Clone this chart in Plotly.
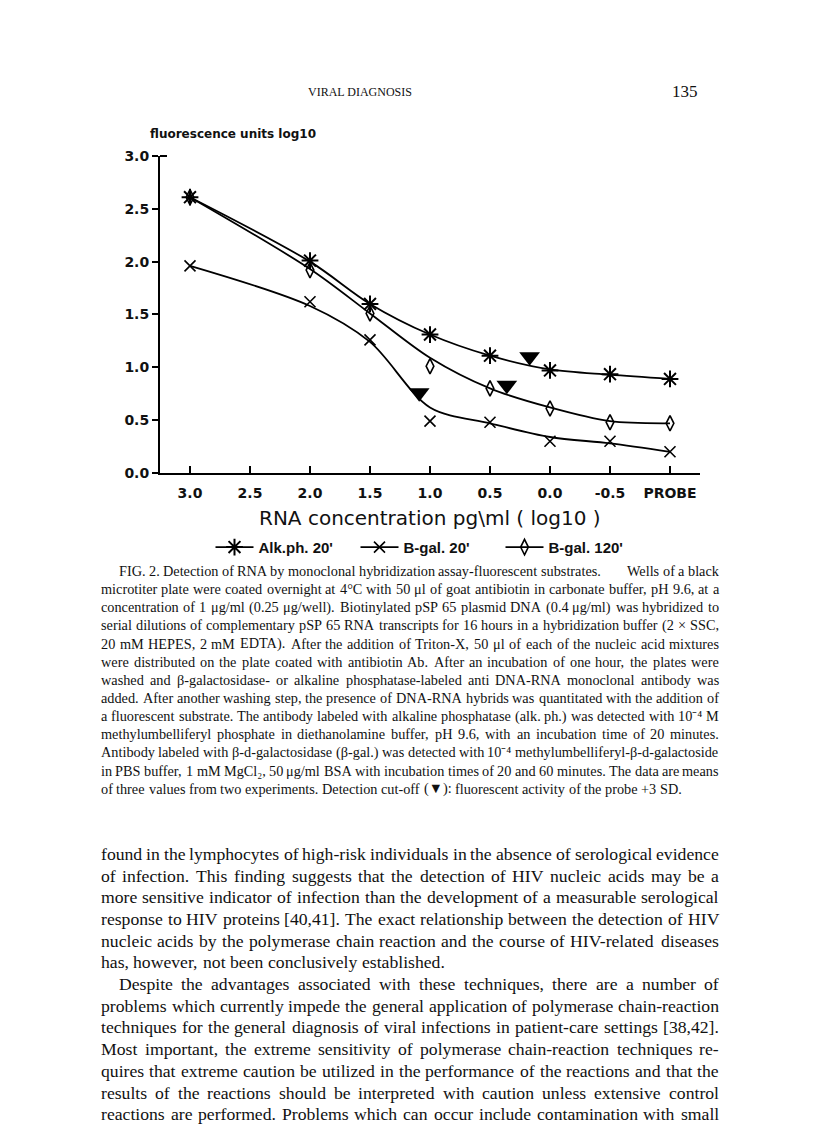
import plotly.graph_objects as go

# la pagina html deja 8 px de margen: la figura ocupa el resto de la ventana de 816 x 1137
PAGE_OFF = 8
W, H = 816 - PAGE_OFF, 1137 - PAGE_OFF

# -- ----------------------------------------------------------------------------------------- datos de la grafica -- #
conc_vals = [3.0, 2.0, 1.5, 1.0, 0.5, 0.0, -0.5, -1.0]          # -1.0 = PROBE

# puntos medidos
alk_20 = [2.61, 2.01, 1.60, 1.31, 1.11, 0.97, 0.935, 0.89]
bgal_20 = [1.96, 1.62, 1.26, 0.49, 0.48, 0.30, 0.30, 0.20]
bgal_120 = [2.61, 1.92, 1.51, 1.01, 0.80, 0.61, 0.48, 0.47]

alk_20_fit = [2.61, 2.00, 1.60, 1.31, 1.11, 0.98, 0.93, 0.89]
bgal_20_fit = [1.96, 1.58, 1.24, 0.62, 0.47, 0.34, 0.28, 0.20]
bgal_120_fit = [2.61, 1.93, 1.51, 1.09, 0.80, 0.62, 0.49, 0.47]

# corte de deteccion (triangulos)
cutoff_x = [0.17, 0.36, 1.09]
cutoff_y = [1.10, 0.83, 0.76]

x_tickvals = [3.0, 2.5, 2.0, 1.5, 1.0, 0.5, 0.0, -0.5, -1.0]
x_ticktext = ['3.0', '2.5', '2.0', '1.5', '1.0', '0.5', '0.0', '-0.5', 'PROBE']
y_tickvals = [0.0, 0.5, 1.0, 1.5, 2.0, 2.5, 3.0]
y_ticktext = ['0.0', '0.5', '1.0', '1.5', '2.0', '2.5', '3.0']

series_names = ["Alk.ph. 20'", "B-gal. 20'", "B-gal. 120'"]

# -- ------------------------------------------------------------------------------------------- texto de la pagina -- #
header_left = 'VIRAL DIAGNOSIS'
header_right = '135'
y_title = 'fluorescence units log10'
x_title = 'RNA concentration pg\\ml ( log10 )'

caption_lines = [
    "FIG. 2. Detection of RNA by monoclonal hybridization assay-fluorescent substrates.        Wells of a black",
    "microtiter plate were coated overnight at 4°C with 50 μl of goat antibiotin in carbonate buffer, pH 9.6, at a",
    "concentration of 1 μg/ml (0.25 μg/well). Biotinylated pSP 65 plasmid DNA (0.4 μg/ml) was hybridized to",
    "serial dilutions of complementary pSP 65 RNA transcripts for 16 hours in a hybridization buffer (2 × SSC,",
    "20 mM HEPES, 2 mM EDTA). After the addition of Triton-X, 50 μl of each of the nucleic acid mixtures",
    "were distributed on the plate coated with antibiotin Ab. After an incubation of one hour, the plates were",
    "washed and β-galactosidase- or alkaline phosphatase-labeled anti DNA-RNA monoclonal antibody was",
    "added. After another washing step, the presence of DNA-RNA hybrids was quantitated with the addition of",
    "a fluorescent substrate. The antibody labeled with alkaline phosphatase (alk. ph.) was detected with 10⁻⁴ M",
    "methylumbelliferyl phosphate in diethanolamine buffer, pH 9.6, with an incubation time of 20 minutes.",
    "Antibody labeled with β-d-galactosidase (β-gal.) was detected with 10⁻⁴ methylumbelliferyl-β-d-galactoside",
    "in PBS buffer, 1 mM MgCl₂, 50 μg/ml BSA with incubation times of 20 and 60 minutes. The data are means",
    "of three values from two experiments. Detection cut-off (▼): fluorescent activity of the probe +3 SD.",
]

body_lines = [
    "found in the lymphocytes of high-risk individuals in the absence of serological evidence",
    "of infection. This finding suggests that the detection of HIV nucleic acids may be a",
    "more sensitive indicator of infection than the development of a measurable serological",
    "response to HIV proteins [40,41]. The exact relationship between the detection of HIV",
    "nucleic acids by the polymerase chain reaction and the course of HIV-related diseases",
    "has, however, not been conclusively established.",
    "Despite the advantages associated with these techniques, there are a number of",
    "problems which currently impede the general application of polymerase chain-reaction",
    "techniques for the general diagnosis of viral infections in patient-care settings [38,42].",
    "Most important, the extreme sensitivity of polymerase chain-reaction techniques re-",
    "quires that extreme caution be utilized in the performance of the reactions and that the",
    "results of the reactions should be interpreted with caution unless extensive control",
    "reactions are performed. Problems which can occur include contamination with small",
]
caption_indent = [0]
caption_last = [12]
body_indent = [6]
body_last = [5]


# -- ------------------------------------------------------------------------------- metricas (Times / Lib. Serif) -- #
TIMES = {' ': 250, '!': 333, '(': 333, ')': 333, '+': 564, ',': 250, '-': 333, '.': 250, '/': 278,
         ':': 278, ';': 278, "'": 333, '[': 333, ']': 333, '°': 400, 'μ': 576, 'β': 549, '×': 564,
         '▼': 1000, '⁻': 380, '⁴': 330, '₂': 330}
TIMES.update({d: 500 for d in '0123456789'})
TIMES.update(dict(zip('abcdefghijklmnopqrstuvwxyz',
                      [444, 500, 444, 500, 444, 333, 500, 500, 278, 278, 500, 278, 778, 500, 500, 500, 500,
                       333, 389, 278, 500, 500, 722, 500, 500, 444])))
TIMES.update(dict(zip('ABCDEFGHIJKLMNOPQRSTUVWXYZ',
                      [722, 667, 667, 722, 611, 556, 722, 722, 333, 389, 722, 611, 889, 722, 722, 556, 722,
                       667, 556, 611, 722, 722, 944, 722, 722, 611])))

SERIF = 'Liberation Serif'
SANS = 'DejaVu Sans'
INK = '#111111'


def px(x):
    """ coordenada x de la pagina -> papel """
    return (x - PAGE_OFF) / W


def py(y):
    """ coordenada y de la pagina -> papel """
    return 1 - (y - PAGE_OFF) / H


def em_width(s):
    return sum(TIMES.get(ch, 500) for ch in s) / 1000


def split_words(line):
    words, weights, pending = [], [], 0
    for t in line.split(' '):
        if t == '':
            pending += 1
            continue
        if words:
            weights.append(1 + pending)
        pending = 0
        words.append(t)
    return words, weights


def fit_size(lines, width):
    ratios = sorted(width / em_width(' '.join(split_words(l)[0])) for l in lines)
    return ratios[len(ratios) // 2] * 0.985


def place_line(fig, line, y_pg, x0, x1, size, justify):
    words, weights = split_words(line)
    widths = [em_width(w) * size for w in words]
    if justify and len(words) > 1:
        gap = (x1 - x0 - sum(widths)) / sum(weights)
    else:
        gap = em_width(' ') * size
    x = x0
    for i, (wd, ww) in enumerate(zip(words, widths)):
        fig.add_annotation(text=wd, x=px(x), y=py(y_pg), xref='paper', yref='paper',
                           xanchor='left', yanchor='middle', showarrow=False, borderpad=0,
                           font=dict(family=SERIF, size=size, color=INK))
        if i < len(weights):
            x += ww + gap * weights[i]


def place_block(fig, lines, y0, dy, x0, x1, indent_rows, last_rows, indent, size):
    for k, line in enumerate(lines):
        xs = x0 + (indent if k in indent_rows else 0)
        place_line(fig, line, y0 + k * dy, xs, x1, size, k not in last_rows)


# -- ------------------------------------------------------------------------------------------------- la grafica -- #
fig = go.Figure()

estilos = [(alk_20, alk_20_fit, 'asterisk-open', 14, 2.0),
           (bgal_20, bgal_20_fit, 'x-thin-open', 11, 1.6),
           (bgal_120, bgal_120_fit, 'diamond-tall-open', 11, 1.6)]

for nombre, (vals, ajuste, simbolo, tam, grosor) in zip(series_names, estilos):
    marcador = dict(symbol=simbolo, size=tam, color='black', line=dict(width=grosor, color='black'))
    linea = dict(color='black', width=1.8)
    # curva ajustada
    fig.add_trace(go.Scatter(x=conc_vals, y=ajuste, mode='lines', showlegend=False, hoverinfo='skip',
                             line=dict(linea, shape='spline', smoothing=0.9), cliponaxis=False))
    # puntos
    fig.add_trace(go.Scatter(x=conc_vals, y=vals, mode='markers', showlegend=False, name=nombre,
                             marker=marcador, cliponaxis=False))
    # entrada de la leyenda
    fig.add_trace(go.Scatter(x=[None], y=[None], mode='lines+markers', name=nombre, line=linea,
                             marker=marcador))

fig.add_trace(go.Scatter(x=cutoff_x, y=cutoff_y, mode='markers', showlegend=False, cliponaxis=False,
                         marker=dict(symbol='triangle-down', size=18, color='black')))

tick_font = dict(family=SANS, size=14, color=INK, weight='bold')
fig.update_xaxes(range=[3.25, -1.25], domain=[px(160), px(700)], showline=True, linecolor='black',
                 linewidth=2, ticks='inside', ticklen=7, tickwidth=2, tickcolor='black',
                 tickvals=x_tickvals, ticktext=x_ticktext, tickfont=tick_font, ticklabelstandoff=6,
                 showgrid=False, zeroline=False)
fig.update_yaxes(range=[0, 3.0], domain=[py(471.5), py(150)], showline=True, linecolor='black',
                 linewidth=2, ticks='outside', ticklen=6, tickwidth=2, tickcolor='black',
                 tickvals=y_tickvals, ticktext=y_ticktext, tickfont=tick_font,
                 showgrid=False, zeroline=False)

# pequeño remate del eje y en 3.0
fig.add_shape(type='line', xref='paper', yref='paper', x0=px(160), x1=px(167), y0=py(150), y1=py(150),
              line=dict(color='black', width=2))

fig.update_layout(width=W, height=H, margin=dict(l=0, r=0, t=0, b=0),
                  paper_bgcolor='white', plot_bgcolor='white',
                  legend=dict(orientation='h', x=px(428), xanchor='center', y=py(547), yanchor='middle',
                              font=dict(family='Liberation Sans', size=15, color=INK, weight='bold'),
                              itemwidth=38, entrywidth=92, entrywidthmode='pixels',
                              bgcolor='rgba(0,0,0,0)'))

# titulos de la grafica
fig.add_annotation(text=y_title, x=px(148), y=py(128), xref='paper', yref='paper', xanchor='left',
                   yanchor='middle', showarrow=False, font=dict(family=SANS, size=12, color=INK, weight='bold'))
fig.add_annotation(text=x_title, x=px(430), y=py(517), xref='paper', yref='paper', xanchor='center',
                   yanchor='middle', showarrow=False, font=dict(family=SANS, size=20, color=INK))

# encabezado de pagina
fig.add_annotation(text=header_left, x=px(360), y=py(85), xref='paper', yref='paper', xanchor='center',
                   yanchor='middle', showarrow=False, font=dict(family=SERIF, size=12, color=INK))
fig.add_annotation(text=header_right, x=px(700), y=py(85), xref='paper', yref='paper', xanchor='right',
                   yanchor='middle', showarrow=False, font=dict(family=SERIF, size=17, color=INK))

# pie de figura y texto
X0, X1 = 100, 718
cap_size = fit_size([l for k, l in enumerate(caption_lines) if k not in caption_indent + caption_last], X1 - X0)
body_size = fit_size([l for k, l in enumerate(body_lines) if k not in body_indent + body_last], X1 - X0)
place_block(fig, caption_lines, 571, 18.4, X0, X1, caption_indent, caption_last, 18, cap_size)
place_block(fig, body_lines, 858, 22.0, X0, X1, body_indent, body_last, 18, body_size)

fig.write_html("out.html")
